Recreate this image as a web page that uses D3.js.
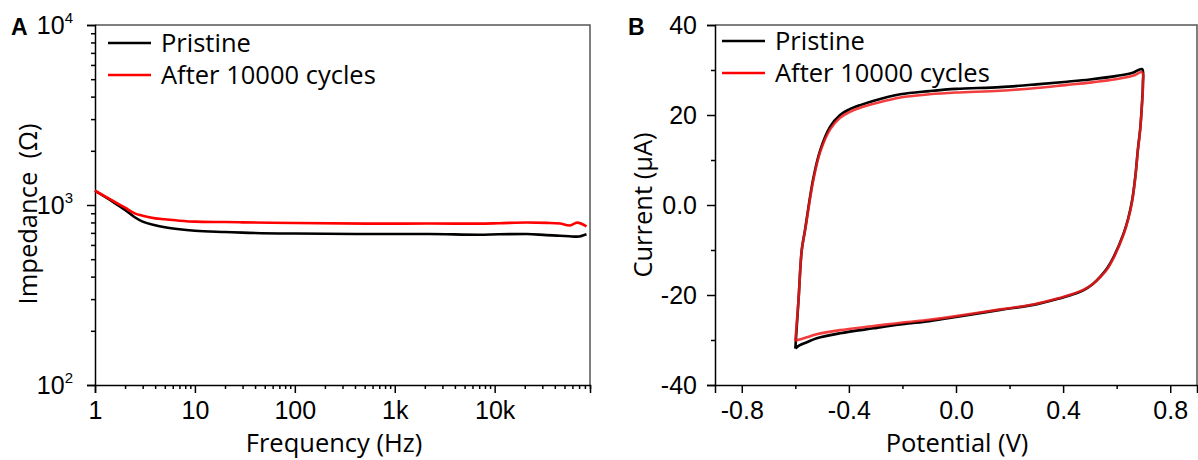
<!DOCTYPE html>
<html>
<head>
<meta charset="utf-8">
<script src="https://cdn.jsdelivr.net/npm/d3@7"></script>
<style>
  body { margin: 0; background: #fff; }
</style>
</head>
<body>
<svg id="chart" width="1198" height="460"></svg>
<script>
'use strict';

// ---- panel A : impedance vs frequency ----
var freqHz      = [1, 1.5, 2, 2.5, 3, 4, 5, 7, 10, 20, 30, 100, 700, 2200, 7000, 11000, 21000, 33000, 45000, 56000, 67000, 83000];
var impPristine = [1200, 1043, 938, 855, 808, 771, 752, 733, 720, 708, 702, 694, 690, 690, 684, 688, 690, 680, 675, 670, 667, 688];
var impCycled   = [1200, 1056, 966, 899, 872, 843, 833, 818, 808, 804, 801, 794, 788, 789, 788, 792, 800, 796, 790, 770, 798, 760];

// ---- panel B : cyclic voltammetry ----
var cvPotential = [-0.600, -0.588, -0.576, -0.564, -0.533, -0.507, -0.470, -0.433, -0.400, -0.358,
                   -0.300, -0.208, -0.100, 0.000, 0.165, 0.300, 0.415, 0.500, 0.602, 0.660,
                   0.695, 0.698, 0.694, 0.688, 0.679, 0.670, 0.658, 0.643, 0.626, 0.589,
                   0.565, 0.539, 0.510, 0.477, 0.430, 0.390, 0.289, 0.165, 0.000, -0.100,
                   -0.200, -0.308, -0.433, -0.520, -0.557, -0.585, -0.600];
var cvPristine  = [-31.9, -21.0, -10.0, -5.6, 5.9, 12.2, 17.4, 20.0, 21.2, 22.2,
                   23.3, 24.6, 25.3, 25.8, 26.2, 26.8, 27.4, 27.9, 28.7, 29.4,
                   30.2, 27.0, 22.0, 17.0, 12.2, 6.5, 1.1, -3.0, -6.3, -11.5,
                   -14.0, -15.9, -17.6, -18.9, -20.0, -20.7, -22.2, -23.3, -24.9, -25.8,
                   -26.5, -27.4, -28.5, -29.6, -30.5, -31.2, -31.9];
var cvCycled    = [-30.2, -21.0, -10.0, -5.8, 5.5, 11.8, 16.8, 19.4, 20.6, 21.6,
                   22.6, 23.9, 24.6, 25.0, 25.4, 26.0, 26.7, 27.2, 28.0, 28.7,
                   29.5, 26.6, 21.8, 16.8, 12.0, 6.3, 0.9, -3.2, -6.5, -11.7,
                   -14.2, -16.0, -17.6, -18.8, -19.9, -20.6, -22.1, -23.2, -24.7, -25.5,
                   -26.1, -26.9, -27.8, -28.7, -29.4, -29.9, -30.2];

var seriesNames  = ['Pristine', 'After 10000 cycles'];
var seriesColors = ['#000000', '#ff0000'];

var freqTicks       = [1, 10, 100, 1000, 10000];
var freqTickLabels  = ['1', '10', '100', '1k', '10k'];
var impTicks        = [100, 1000, 10000];
var impTickExp      = ['2', '3', '4'];
var potentialTicks  = [-0.8, -0.4, 0, 0.4, 0.8];
var potentialLabels = ['-0.8', '-0.4', '0.0', '0.4', '0.8'];
var currentTicks    = [-40, -20, 0, 20, 40];
var currentLabels   = ['-40', '-20', '0.0', '20', '40'];

var TITLE_FONT = '"Open Sans", "Noto Sans", sans-serif';
var TICK_FONT = '"Liberation Sans", Arial, sans-serif';
var TITLE_SIZE = 25.5;
var TICK_SIZE = 25;

var svg = d3.select('#chart');

function styleAxis(g) {
  g.select('.domain').attr('stroke', '#000').attr('stroke-width', 1.5);
  g.selectAll('.tick line').attr('stroke', '#000').attr('stroke-width', 1.5);
  g.selectAll('.tick text')
    .attr('font-family', TICK_FONT)
    .attr('font-size', TICK_SIZE)
    .attr('fill', '#000');
}

function minorAxis(g, axis) {
  g.call(axis);
  g.select('.domain').remove();
  g.selectAll('.tick line').attr('stroke', '#000').attr('stroke-width', 1.5);
  g.selectAll('.tick text').remove();
}

function frame(x0, x1, y0, y1) {
  svg.append('path')
    .attr('d', 'M' + x0 + ',' + y0 + 'H' + x1 + 'V' + y1)
    .attr('fill', 'none')
    .attr('stroke', '#555')
    .attr('stroke-width', 1.5);
}

function legend(x, y, gap, textX) {
  var lg = svg.append('g').attr('transform', 'translate(' + x + ',' + y + ')');
  seriesNames.forEach(function(name, i) {
    lg.append('line')
      .attr('x1', 0).attr('x2', 43)
      .attr('y1', i * gap).attr('y2', i * gap)
      .attr('stroke', seriesColors[i])
      .attr('stroke-width', 2.5);
    lg.append('text')
      .attr('x', textX).attr('y', i * gap + 9)
      .attr('font-family', TITLE_FONT)
      .attr('font-size', TITLE_SIZE)
      .text(name);
  });
}

function panelLetter(x, label) {
  svg.append('text')
    .attr('x', x).attr('y', 35)
    .attr('font-family', TICK_FONT)
    .attr('font-size', 23)
    .attr('font-weight', 'bold')
    .text(label);
}

// ================= panel A =================
var xA = d3.scaleLog().domain([1, 9e4]).range([95, 590]);
var yA = d3.scaleLog().domain([100, 10000]).range([385, 25]);

var freqMinor = [];
[1, 10, 100, 1000, 10000].forEach(function(d) {
  for (var m = 2; m <= 9; m++) if (m * d <= 9e4) freqMinor.push(m * d);
});
var impMinor = [];
[100, 1000].forEach(function(d) {
  for (var m = 2; m <= 9; m++) impMinor.push(m * d);
});

frame(95, 590, 25, 385);

svg.append('g').attr('transform', 'translate(0,385)')
  .call(function(g) {
    minorAxis(g, d3.axisBottom(xA).tickValues(freqMinor).tickSize(4));
  });
svg.append('g').attr('transform', 'translate(95,0)')
  .call(function(g) {
    minorAxis(g, d3.axisLeft(yA).tickValues(impMinor).tickSize(4));
  });

var axA_x = svg.append('g').attr('transform', 'translate(0,385)')
  .call(d3.axisBottom(xA).tickValues(freqTicks).tickSizeOuter(0).tickSize(8).tickPadding(8)
    .tickFormat(function(d, i) { return freqTickLabels[i]; }));
styleAxis(axA_x);

var axA_y = svg.append('g').attr('transform', 'translate(95,0)')
  .call(d3.axisLeft(yA).tickValues(impTicks).tickSizeOuter(0).tickSize(8).tickPadding(14)
    .tickFormat(''));
styleAxis(axA_y);
axA_y.selectAll('.tick text').each(function(d, i) {
  var t = d3.select(this).attr('dy', '0.35em');
  t.append('tspan').text('10');
  t.append('tspan').attr('font-size', 15).attr('dy', '-0.75em').text(impTickExp[i]);
});

var lineA = d3.line()
  .x(function(d) { return xA(d[0]); })
  .y(function(d) { return yA(d[1]); })
  .curve(d3.curveMonotoneX);

[impPristine, impCycled].forEach(function(vals, i) {
  svg.append('path')
    .datum(freqHz.map(function(f, j) { return [f, vals[j]]; }))
    .attr('d', lineA)
    .attr('fill', 'none')
    .attr('stroke', seriesColors[i])
    .attr('stroke-width', 2.6)
    .attr('stroke-linejoin', 'round');
});

legend(108, 43, 32, 53);
panelLetter(11, 'A');

svg.append('text')
  .attr('transform', 'translate(37,214) rotate(-90)')
  .attr('text-anchor', 'middle')
  .attr('font-family', TITLE_FONT)
  .attr('font-size', TITLE_SIZE)
  .style('white-space', 'pre')
  .text('Impedance  (\u03A9)');

svg.append('text')
  .attr('x', 334).attr('y', 452)
  .attr('text-anchor', 'middle')
  .attr('font-family', TITLE_FONT)
  .attr('font-size', TITLE_SIZE)
  .text('Frequency (Hz)');

// ================= panel B =================
var xB = d3.scaleLinear().domain([-0.9, 0.9]).range([715, 1197]);
var yB = d3.scaleLinear().domain([-40, 40]).range([385, 25]);

frame(715, 1197, 25, 385);

svg.append('g').attr('transform', 'translate(0,385)')
  .call(function(g) {
    minorAxis(g, d3.axisBottom(xB).tickValues([-0.6, -0.2, 0.2, 0.6]).tickSize(4));
  });
svg.append('g').attr('transform', 'translate(715,0)')
  .call(function(g) {
    minorAxis(g, d3.axisLeft(yB).tickValues([-30, -10, 10, 30]).tickSize(4));
  });

var axB_x = svg.append('g').attr('transform', 'translate(0,385)')
  .call(d3.axisBottom(xB).tickValues(potentialTicks).tickSizeOuter(0).tickSize(8).tickPadding(8)
    .tickFormat(function(d, i) { return potentialLabels[i]; }));
styleAxis(axB_x);

var axB_y = svg.append('g').attr('transform', 'translate(715,0)')
  .call(d3.axisLeft(yB).tickValues(currentTicks).tickSizeOuter(0).tickSize(8).tickPadding(10)
    .tickFormat(function(d, i) { return currentLabels[i]; }));
styleAxis(axB_y);
axB_y.selectAll('.tick text').attr('dy', '0.35em');

var lineB = d3.line()
  .x(function(d) { return xB(d[0]); })
  .y(function(d) { return yB(d[1]); })
  .curve(d3.curveCatmullRom.alpha(0.5));

[cvPristine, cvCycled].forEach(function(vals, i) {
  svg.append('path')
    .datum(cvPotential.map(function(v, j) { return [v, vals[j]]; }))
    .attr('d', lineB)
    .attr('fill', 'none')
    .attr('stroke', i ? '#f01c1c' : '#000')
    .attr('stroke-opacity', i ? 0.85 : 1)
    .attr('stroke-width', 2.6)
    .attr('stroke-linejoin', 'round');
});

// original legend rows sit a little tighter; 32px keeps the labels apart
legend(722, 41, 32, 53);
panelLetter(628, 'B');

svg.append('text')
  .attr('transform', 'translate(652,205) rotate(-90)')
  .attr('text-anchor', 'middle')
  .attr('font-family', TITLE_FONT)
  .attr('font-size', TITLE_SIZE)
  .text('Current (\u03BCA)');

svg.append('text')
  .attr('x', 957).attr('y', 452)
  .attr('text-anchor', 'middle')
  .attr('font-family', TITLE_FONT)
  .attr('font-size', TITLE_SIZE)
  .text('Potential (V)');
</script>
</body>
</html>
